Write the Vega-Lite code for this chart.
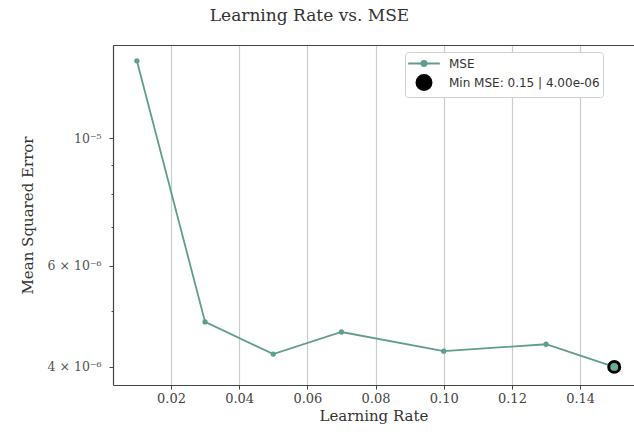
{
  "$schema": "https://vega.github.io/schema/vega-lite/v6.json",
  "width": 521,
  "height": 340,
  "autosize": {"type": "none"},
  "padding": {"left": 113, "top": 45, "right": 0, "bottom": 47},
  "background": "white",
  "config": {"view": {"stroke": null}, "font": "DejaVu Serif"},
  "title": {
    "text": "Learning Rate vs. MSE",
    "font": "DejaVu Serif",
    "fontSize": 17,
    "fontWeight": "normal",
    "color": "#333333",
    "anchor": "middle",
    "baseline": "alphabetic",
    "dx": -64,
    "offset": 7
  },
  "data": {
    "values": [
      {"lr": 0.01, "mse": 1.364e-5},
      {"lr": 0.03, "mse": 4.79e-6},
      {"lr": 0.05, "mse": 4.21e-6},
      {"lr": 0.07, "mse": 4.60e-6},
      {"lr": 0.10, "mse": 4.26e-6},
      {"lr": 0.13, "mse": 4.38e-6},
      {"lr": 0.15, "mse": 4.00e-6}
    ]
  },
  "layer": [
    {
      "mark": {
        "type": "line",
        "strokeWidth": 1.8,
        "point": {"filled": true, "size": 28}
      },
      "encoding": {
        "x": {
          "field": "lr",
          "type": "quantitative",
          "scale": {"domain": [0.003, 0.1558], "nice": false, "zero": false},
          "axis": {
            "values": [0.02, 0.04, 0.06, 0.08, 0.10, 0.12, 0.14],
            "format": ".2f",
            "title": "Learning Rate",
            "grid": true,
            "gridColor": "#cccccc",
            "gridWidth": 1.2,
            "domainColor": "#444444",
            "domainWidth": 1.2,
            "tickColor": "#444444",
            "tickSize": 4,
            "labelFont": "DejaVu Serif",
            "labelFontSize": 13,
            "labelColor": "#444444",
            "labelPadding": 3,
            "titleFont": "DejaVu Serif",
            "titleFontSize": 15,
            "titleFontWeight": "normal",
            "titleColor": "#333333",
            "titlePadding": 3
          }
        },
        "y": {
          "field": "mse",
          "type": "quantitative",
          "scale": {"type": "log", "domain": [3.72e-6, 1.453e-5], "nice": false},
          "axis": {
            "values": [4e-6, 5e-6, 6e-6, 7e-6, 8e-6, 9e-6, 1e-5],
            "labelExpr": "datum.value > 9.5e-6 ? '10⁻⁵' : (abs(datum.value - 6e-6) < 1e-7 ? '6 × 10⁻⁶' : (abs(datum.value - 4e-6) < 1e-7 ? '4 × 10⁻⁶' : ''))",
            "tickSize": {"condition": {"test": "datum.value > 9.5e-6 || abs(datum.value - 6e-6) < 1e-7 || abs(datum.value - 4e-6) < 1e-7", "value": 4}, "value": 2},
            "grid": false,
            "title": "Mean Squared Error",
            "domainColor": "#444444",
            "domainWidth": 1.2,
            "tickColor": "#444444",
            "labelFont": "DejaVu Serif",
            "labelFontSize": 12.5,
            "labelColor": "#555555",
            "labelPadding": 8,
            "titleFont": "DejaVu Serif",
            "titleFontSize": 15,
            "titleFontWeight": "normal",
            "titleColor": "#333333",
            "titlePadding": 12
          }
        },
        "color": {
          "datum": "MSE",
          "type": "nominal",
          "scale": {
            "domain": ["MSE", "Min MSE: 0.15 | 4.00e-06"],
            "range": ["#5f9e8f", "#000000"]
          },
          "legend": {
            "orient": "none",
            "legendX": 292,
            "legendY": 7,
            "title": null,
            "labelFont": "DejaVu Sans",
            "labelFontSize": 12,
            "labelLimit": 400,
            "labelColor": "#333333",
            "strokeColor": "#d0d0d0",
            "fillColor": "white",
            "cornerRadius": 3,
            "padding": 3,
            "symbolSize": 250,
            "symbolStrokeWidth": 1.5,
            "rowPadding": 1,
            "labelOffset": 24,
            "encode": {
              "symbols": {
                "update": {
                  "shape": {"signal": "datum.value === 'MSE' ? 'M-1,0H1M-0.16,0A0.16,0.16 0 1,0 0.16,0A0.16,0.16 0 1,0 -0.16,0' : 'circle'"},
                  "size": {"signal": "datum.value === 'MSE' ? 1000 : 230"},
                  "fill": {"signal": "datum.value === 'MSE' ? '#5f9e8f' : '#000000'"},
                  "stroke": {"signal": "datum.value === 'MSE' ? '#5f9e8f' : '#000000'"},
                  "strokeWidth": {"value": 1.8},
                  "opacity": {"value": 1},
                  "x": {"value": 16}
                }
              }
            }
          }
        }
      }
    },
    {
      "transform": [{"filter": "datum.lr == 0.15"}],
      "mark": {
        "type": "point",
        "filled": true,
        "size": 120,
        "fill": "#6aa898",
        "stroke": "#000000",
        "strokeWidth": 3,
        "opacity": 1
      },
      "encoding": {
        "x": {
          "field": "lr",
          "type": "quantitative",
          "axis": {
            "orient": "top",
            "labels": false,
            "ticks": false,
            "grid": false,
            "title": null,
            "domain": true,
            "domainColor": "#444444",
            "domainWidth": 1.2
          }
        },
        "y": {"field": "mse", "type": "quantitative"}
      }
    }
  ],
  "resolve": {"axis": {"x": "independent"}}
}
